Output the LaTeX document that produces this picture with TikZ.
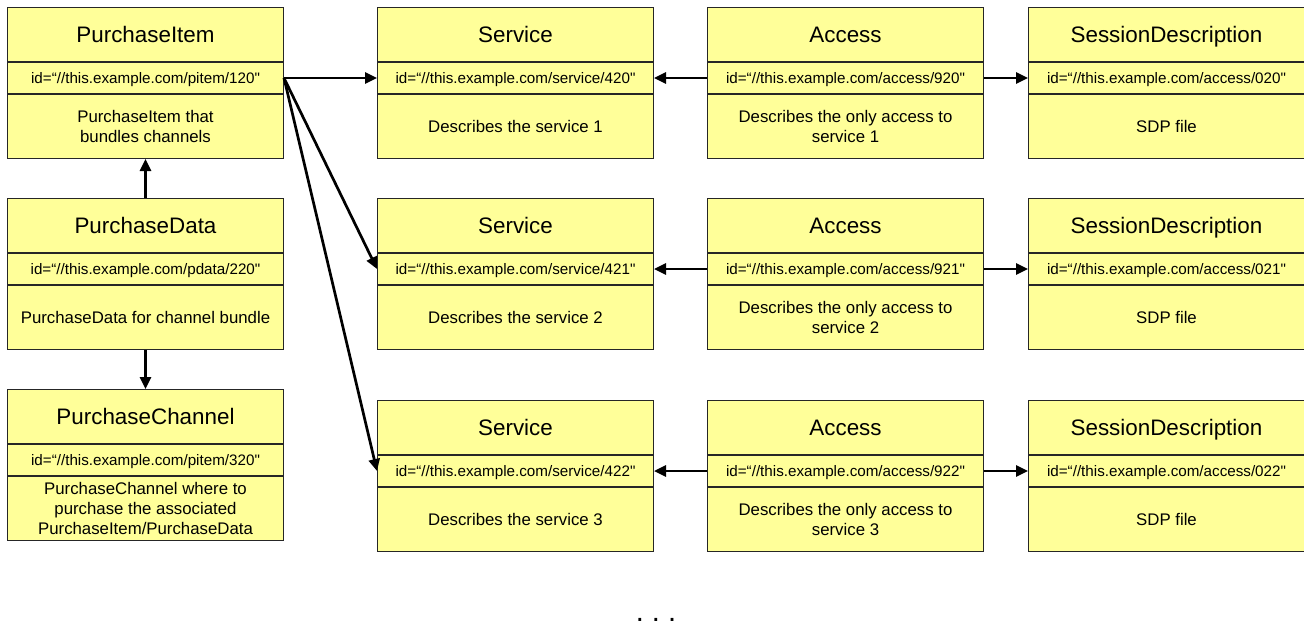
\documentclass[tikz,border=0pt]{standalone}
\usepackage{fontspec}
\setmainfont{Liberation Sans}[Ligatures=TeXOff]
\usetikzlibrary{arrows.meta}
\definecolor{boxfill}{HTML}{FFFF99}
\tikzset{
  base/.style={draw=black!85, line width=1pt, fill=boxfill, minimum width=276pt,
    anchor=north west, inner sep=0pt, align=center, text=black},
  ttl/.style={base, minimum height=54pt, font=\fontsize{22.4}{25}\selectfont,
    text height=16pt, text depth=0pt},
  idf/.style={base, minimum height=31pt, font=\fontsize{15.2}{18}\selectfont,
    text height=11pt, text depth=0pt},
  dsc/.style={base, minimum height=64pt, font=\fontsize{16.8}{20}\selectfont},
  arr/.style={line width=2.7pt, -{Triangle[length=12pt,width=11pt]}}
}
\newcommand{\objbox}[5]{%
  \node[ttl] (#1T) at (#2) {#3};
  \node[idf] (#1I) at (#1T.south west) {#4};
  \node[dsc] (#1D) at (#1I.south west) {#5};
}
\begin{document}
\begin{tikzpicture}[x=1pt,y=-1pt]
\useasboundingbox (0,0) rectangle (1304,627);
% left column
\objbox{pi}{7,7}{PurchaseItem}{id=“//this.example.com/pitem/120"}{PurchaseItem that\\ bundles channels}
\objbox{pd}{7,198}{PurchaseData}{id=“//this.example.com/pdata/220"}{PurchaseData for channel bundle}
\objbox{pc}{7,389}{PurchaseChannel}{id=“//this.example.com/pitem/320"}{PurchaseChannel where to\\ purchase the associated\\ PurchaseItem/PurchaseData}
% row 1
\objbox{sa}{377,7}{Service}{id=“//this.example.com/service/420"}{Describes the service 1}
\objbox{aa}{707,7}{Access}{id=“//this.example.com/access/920"}{Describes the only access to\\ service 1}
\objbox{da}{1028,7}{SessionDescription}{id=“//this.example.com/access/020"}{SDP file}
% row 2
\objbox{sb}{377,198}{Service}{id=“//this.example.com/service/421"}{Describes the service 2}
\objbox{ab}{707,198}{Access}{id=“//this.example.com/access/921"}{Describes the only access to\\ service 2}
\objbox{db}{1028,198}{SessionDescription}{id=“//this.example.com/access/021"}{SDP file}
% row 3
\objbox{sc}{377,400}{Service}{id=“//this.example.com/service/422"}{Describes the service 3}
\objbox{ac}{707,400}{Access}{id=“//this.example.com/access/922"}{Describes the only access to\\ service 3}
\objbox{dc}{1028,400}{SessionDescription}{id=“//this.example.com/access/022"}{SDP file}
% connectors
\draw[arr] (pdT.north) -- (piD.south);
\draw[arr] (pdD.south) -- (pcT.north);
\draw[arr] (piI.east) -- (saI.west);
\draw[arr] (piI.east) -- (sbI.west);
\draw[arr] (piI.east) -- (scI.west);
\draw[arr] (aaI.west) -- (saI.east);
\draw[arr] (aaI.east) -- (daI.west);
\draw[arr] (abI.west) -- (sbI.east);
\draw[arr] (abI.east) -- (dbI.west);
\draw[arr] (acI.west) -- (scI.east);
\draw[arr] (acI.east) -- (dcI.west);
\node[font=\fontsize{29}{30}\selectfont, anchor=base] (dots) at (656,621) {.\ .\ .};
\end{tikzpicture}
\end{document}
